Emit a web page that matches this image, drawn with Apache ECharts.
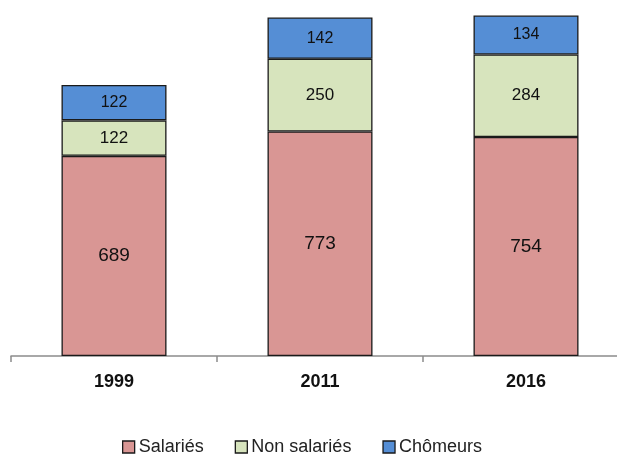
<!DOCTYPE html>
<html><head><meta charset="utf-8">
<script src="https://cdn.jsdelivr.net/npm/echarts@6/dist/echarts.min.js"></script>
<style>html,body{margin:0;padding:0;background:#fff}#c{width:617px;height:454px}</style>
</head><body><div id="c"></div>
<script>
const categories = ['1999', '2011', '2016'];
const salaries = [689, 773, 754];
const nonSalaries = [122, 250, 284];
const chomeurs = [122, 142, 134];
const seriesNames = ['Salariés', 'Non salariés', 'Chômeurs'];

const chart = echarts.init(document.getElementById('c'), null, {renderer: 'canvas'});
const font = 'Liberation Sans';
function mk(name, data, color, fs) {
  return {
    name, type: 'bar', stack: 't', data, barWidth: 105,
    itemStyle: {color, borderColor: '#1a1a1a', borderWidth: 1.3},
    label: {show: true, position: 'inside', color: '#111', fontSize: fs, fontFamily: font},
    emphasis: {disabled: true}
  };
}
chart.setOption({
  animation: false,
  grid: {left: 11, width: 618, top: 7.4, height: 348.6, outerBoundsMode: 'none', containLabel: false},
  legend: {
    top: 438, left: 122, itemWidth: 12, itemHeight: 12, itemGap: 31,
    padding: 0,
    textStyle: {fontSize: 18, fontFamily: font, color: '#222', padding: [0, 0, 0, -1]},
    icon: 'rect', data: seriesNames.map(n => ({name: n, itemStyle: {borderColor: '#1a1a1a', borderWidth: 1.3}}))
  },
  xAxis: {
    type: 'category', data: categories,
    axisLine: {lineStyle: {color: '#8c8c8c', width: 1.5}},
    axisTick: {show: true, length: 6, lineStyle: {color: '#8c8c8c', width: 1.5}},
    axisLabel: {fontSize: 18, fontWeight: 'bold', color: '#111', fontFamily: font, margin: 17}
  },
  yAxis: {type: 'value', min: 0, max: 1200, show: false, splitLine: {show: false}},
  series: [
    mk(seriesNames[0], salaries, '#D99694', 19),
    mk(seriesNames[1], nonSalaries, '#D7E4BD', 17),
    mk(seriesNames[2], chomeurs, '#558ED5', 16)
  ]
});
</script></body></html>
